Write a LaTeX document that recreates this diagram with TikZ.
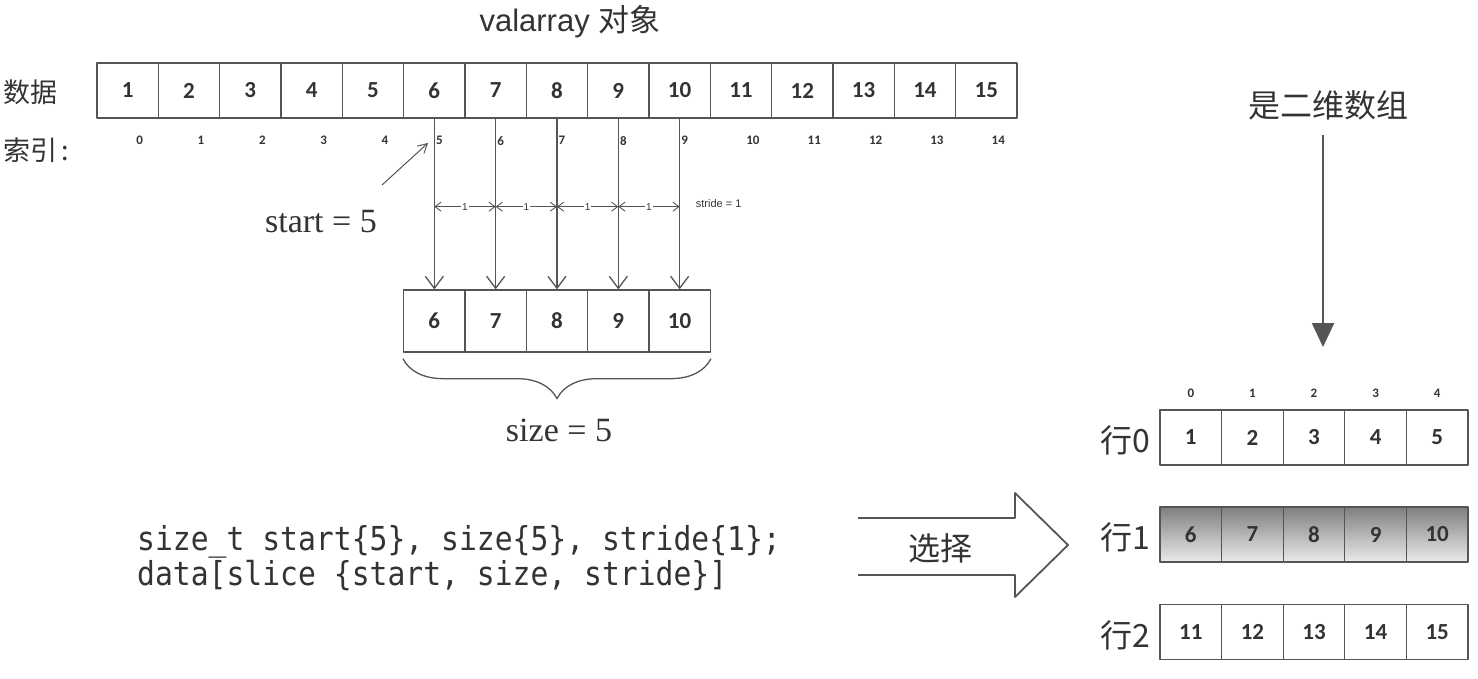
\documentclass[tikz,border=0pt]{standalone}
\usepackage{fontspec}
\setmainfont{Liberation Serif}
\setsansfont{Liberation Sans}
\setmonofont{DejaVu Sans Mono}
\newfontfamily\cjk{Noto Sans CJK SC}
\newfontfamily\numf{Carlito}
\usetikzlibrary{arrows.meta,decorations.pathreplacing,calc}
\definecolor{ln}{HTML}{555555}
\definecolor{txt}{HTML}{333333}
\begin{document}
\begin{tikzpicture}[x=1pt,y=-1pt,line join=round,
  every node/.style={text=txt},
  cell/.style={draw=ln,line width=1.3pt,minimum width=61.33pt,minimum height=55pt,inner sep=0pt,
    font=\numf\bfseries\fontsize{23}{23}\selectfont},
  subcell/.style={cell,minimum height=62pt},
  gcell/.style={cell,minimum width=61.6pt},
  shadecell/.style={gcell,top color=black!50,bottom color=black!8},
  idx/.style={font=\numf\bfseries\fontsize{13}{13}\selectfont,inner sep=1pt},
  cjkT/.style={font=\cjk\fontsize{27}{27}\selectfont,inner sep=0pt},
  cjkL/.style={font=\cjk\fontsize{32}{32}\selectfont,inner sep=0pt},
  serifT/.style={font=\fontsize{34}{34}\selectfont,inner sep=0pt},
  varrow/.style={draw=ln,line width=1.3pt,-{Straight Barb[length=12pt,width=18pt,line width=1.3pt]}},
  sarrow/.style={draw=ln,line width=0.9pt,{Straight Barb[length=6pt,width=9pt]}-{Straight Barb[length=6pt,width=9pt]}},
  lab1/.style={font=\sffamily\fontsize{10}{10}\selectfont,fill=white,inner sep=1pt},
  farrow/.style={draw=ln,line width=2.5pt,-{Triangle[length=24pt,width=22pt]}},
  hol/.style={draw=ln,line width=1.8pt},
  code/.style={font=\ttfamily\fontsize{33}{35}\selectfont,align=left,inner sep=0pt}]
\useasboundingbox (0,0) rectangle (1478,678);

% title
\node[font=\sffamily\fontsize{31}{31}\selectfont,inner sep=0pt] (title) at (570,22) {valarray {\cjk 对象}};

% labels left
\node[cjkT] (ldata) at (31,92) {数据};
\node[cjkT,anchor=west] (lidx) at (3,150) {索引\,:};

% top array
\foreach \i in {1,...,15}
  \node[cell] (c\i) at ({97+61.33*(\i-0.5)},90.5) {\i};

% index labels
\foreach \i in {0,...,4,10,11,12,13,14}
  \node[idx] (ix\i) at ({97+61.33*(\i+0.5)+12},140) {\i};

% subarray and arrows
\foreach \j in {1,...,5}{
  \pgfmathtruncatemacro{\k}{\j+5}
  \pgfmathtruncatemacro{\m}{\j+4}
  \node[subcell] (s\j) at ({97+61.33*(\k-0.5)},321) {\k};
  \node[idx,anchor=west] (ix\m) at ($(c\k.south)+(0.5,22)$) {\m};
  \draw[varrow] (c\k.south) -- (s\j.north);
  \coordinate (d\j) at ($(c\k.south)+(0,88)$);
}

% stride dimension arrows
\foreach \a/\b in {1/2,2/3,3/4,4/5}
  \draw[sarrow] (d\a) -- node[lab1] (one\a) {1} (d\b);
\node[font=\sffamily\fontsize{11}{11}\selectfont,anchor=west,inner sep=0pt] (stride) at ($(d5)+(16,-3)$) {stride = 1};

% start
\node[serifT] (start) at (321,222) {start = 5};
\coordinate (sp0) at (382,185);
\coordinate (sp1) at (428,143);
\draw[draw=ln,line width=1pt,-{Straight Barb[length=9pt,width=10pt]}] (sp0) -- (sp1);

% brace
\draw[draw=ln,line width=1.3pt,decorate,decoration={brace,mirror,amplitude=40pt,aspect=0.5}]
  ($(s1.south west)+(0,6)$) -- ($(s5.south east)+(0,6)$);
\node[serifT] (size) at (559,430) {size = 5};

% code
\node[code,anchor=west] (code) at (137,558) {\scalebox{0.9}[1]{size\_t start\{5\}, size\{5\}, stride\{1\};}\\\scalebox{0.9}[1]{data[slice \{start, size, stride\}]}};

% hollow arrow
\draw[hol] (858,518) -- (1015,518) -- (1015,493) -- (1068,545) -- (1015,597) -- (1015,575) -- (858,575);
\node[cjkL] (sel) at (940,548) {选择};

% right side
\node[cjkL] (t2d) at (1328,105) {是二维数组};
\coordinate (fa0) at (1323,135);
\coordinate (fa1) at (1323,347);
\draw[farrow] (fa0) -- (fa1);

\foreach \c in {1,...,5}{
  \pgfmathtruncatemacro{\ci}{\c-1}
  \pgfmathtruncatemacro{\vb}{\c+5}
  \pgfmathtruncatemacro{\vc}{\c+10}
  \node[idx] (gi\c) at ({1160+61.6*(\c-0.5)},393) {\ci};
  \node[gcell] (ra\c) at ({1160+61.6*(\c-0.5)},437.5) {\c};
  \node[shadecell] (rb\c) at ({1160+61.6*(\c-0.5)},534.5) {\vb};
  \node[gcell] (rc\c) at ({1160+61.6*(\c-0.5)},632) {\vc};
}
\node[cjkL,anchor=east] (row0) at ($(ra1.west)+(-9,3)$) {行0};
\node[cjkL,anchor=east] (row1) at ($(rb1.west)+(-9,3)$) {行1};
\node[cjkL,anchor=east] (row2) at ($(rc1.west)+(-9,3)$) {行2};
\end{tikzpicture}
\end{document}
